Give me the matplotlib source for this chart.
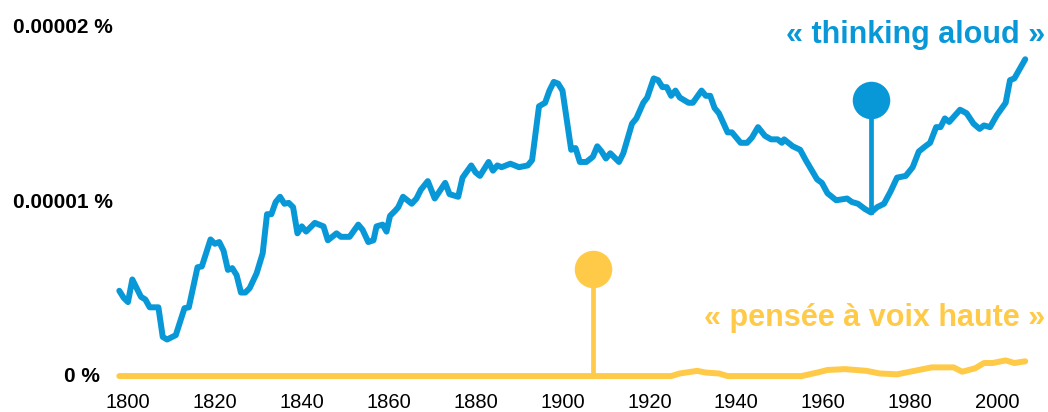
import matplotlib
matplotlib.use("Agg")
import matplotlib.pyplot as plt
import matplotlib.transforms as mtransforms

plt.rcParams.update({
    "font.family": ["Liberation Sans", "DejaVu Sans"],
    "font.size": 14,
})

BLUE = "#0898D7"
YELLOW = "#FFCA48"

# values in units of 0.000001 %
blue_years = [
    1798, 1799, 1800, 1801, 1803, 1804, 1805, 1807, 1808, 1809, 1811, 1813, 1814,
    1816, 1817, 1819, 1820, 1821, 1822, 1823, 1824, 1825, 1826, 1827, 1828, 1829.6,
    1831, 1832, 1833, 1834, 1835, 1836, 1837, 1838, 1839, 1840, 1841, 1843, 1845,
    1846, 1848, 1849, 1851, 1853, 1854, 1855.3, 1856.5, 1857.2, 1858.6, 1859.5,
    1860.3, 1861.5, 1862.2, 1863.3, 1865.3, 1866.4, 1867.4, 1869, 1870.6, 1873,
    1874, 1876, 1877, 1879, 1880, 1881, 1883, 1884, 1885, 1886, 1888, 1890, 1892,
    1893, 1894.6, 1896, 1897, 1898, 1899, 1900, 1901, 1902, 1903, 1904, 1905.5,
    1907, 1908, 1909, 1910, 1911, 1913, 1914, 1916, 1917, 1918.6, 1919.5, 1921,
    1922, 1923, 1924, 1925, 1926, 1927, 1929, 1930, 1932, 1933, 1934, 1935, 1936,
    1938, 1939, 1941, 1942.5, 1943.6, 1945, 1946.6, 1948, 1949.5, 1950.5, 1951,
    1953, 1954.7, 1956, 1958.6, 1959.7, 1961, 1963, 1965.5, 1966.6, 1968, 1969.6,
    1971, 1972.4, 1974, 1975.5, 1977, 1979, 1980.6, 1982, 1983.5, 1984.6, 1986,
    1987, 1988, 1989, 1991.5, 1993, 1994.6, 1996, 1997, 1998.4, 2000, 2002, 2003,
    2004, 2006.5,
]
blue_values = [
    4.9, 4.5, 4.25, 5.55, 4.55, 4.4, 3.95, 3.95, 2.25, 2.1, 2.35, 3.9, 3.95,
    6.25, 6.3, 7.85, 7.6, 7.7, 7.2, 6.1, 6.2, 5.8, 4.8, 4.8, 5.05, 5.9,
    7.05, 9.3, 9.3, 10.0, 10.3, 9.9, 9.95, 9.7, 8.2, 8.6, 8.3, 8.8, 8.6,
    7.8, 8.2, 8.0, 8.0, 8.7, 8.4, 7.7, 7.8, 8.6, 8.7, 8.3,
    9.2, 9.5, 9.7, 10.3, 9.9, 10.2, 10.7, 11.2, 10.2, 11.1,
    10.45, 10.3, 11.4, 12.1, 11.7, 11.5, 12.3, 11.8, 12.1, 12.0, 12.2, 12.0, 12.1,
    12.4, 15.5, 15.7, 16.4, 16.9, 16.8, 16.4, 14.7, 13.0, 13.1, 12.3, 12.3,
    12.6, 13.2, 12.9, 12.5, 12.8, 12.3, 12.8, 14.5, 14.8, 15.7, 16.0, 17.1,
    17.0, 16.6, 16.6, 16.1, 16.4, 16.0, 15.7, 15.7, 16.4, 16.1, 16.1, 15.4, 15.1,
    14.0, 14.0, 13.4, 13.4, 13.7, 14.3, 13.8, 13.6, 13.6, 13.4, 13.6,
    13.2, 13.0, 12.4, 11.3, 11.1, 10.5, 10.1, 10.2, 10.0, 9.9, 9.6,
    9.4, 9.7, 9.9, 10.6, 11.4, 11.5, 12.0, 12.9, 13.2, 13.4, 14.3,
    14.3, 14.8, 14.6, 15.3, 15.1, 14.5, 14.2, 14.4, 14.3, 15.0, 15.7, 17.0,
    17.1, 18.2,
]

yellow_years = [1798, 1925, 1927, 1931, 1933, 1936, 1938, 1955, 1958.6, 1961, 1965,
                1970, 1973, 1977, 1980, 1985, 1990, 1992, 1995, 1997, 1999, 2002,
                2004, 2006.5]
yellow_values = [0, 0, 0.15, 0.3, 0.2, 0.15, 0.0, 0.0, 0.2, 0.35, 0.4,
                 0.3, 0.15, 0.1, 0.25, 0.5, 0.5, 0.25, 0.45, 0.75, 0.75, 0.9,
                 0.75, 0.85]

# lollipop markers: (year, top of stem, bottom of stem)
blue_pin = (1971, 15.85, 9.4)
yellow_pin = (1907, 6.15, 0.0)

x_ticks = list(range(1800, 2001, 20))
y_ticks = [0, 10, 20]
y_labels = ["0 %", "0.00001 %", "0.00002 %"]

fig = plt.figure(figsize=(10.48, 4.12), dpi=100)
ax = fig.add_axes([100 / 1048, 22 / 412, 940 / 1048, 380 / 412])

ax.plot(yellow_years, yellow_values, color=YELLOW, lw=4.3,
        solid_capstyle="round", solid_joinstyle="round", clip_on=False)
ax.plot(blue_years, blue_values, color=BLUE, lw=4.3,
        solid_capstyle="round", solid_joinstyle="round", clip_on=False)

for (yr, top, bottom), c in [(blue_pin, BLUE), (yellow_pin, YELLOW)]:
    ax.plot([yr, yr], [bottom, top], color=c, lw=3.4, clip_on=False)
    ax.plot([yr], [top], "o", color=c, ms=27, mew=0, clip_on=False)

ax.set_xlim(1793.56, 2009.9)
ax.set_ylim(-0.8, 21.03)
for s in ax.spines.values():
    s.set_visible(False)
ax.set_xticks(x_ticks)
ax.tick_params(axis="x", length=0, pad=2, labelsize=14.5)
ax.set_yticks([])

trans = mtransforms.blended_transform_factory(fig.transFigure, ax.transData)
for v, lab in zip(y_ticks, y_labels):
    if v == 0:
        ax.text(100 / 1048, v, lab, transform=trans, ha="right", va="center",
                fontsize=15, fontweight="bold")
    else:
        ax.text(13 / 1048, v, lab, transform=trans, ha="left", va="center",
                fontsize=15, fontweight="bold")

fig.text(1045 / 1048, 1 - 43 / 412, "« thinking aloud »", color=BLUE,
         ha="right", va="baseline", fontsize=22, fontweight="bold")
fig.text(1045 / 1048, 1 - 326 / 412, "« pensée à voix haute »", color=YELLOW,
         ha="right", va="baseline", fontsize=22, fontweight="bold")

fig.savefig("out.png", dpi=100)
